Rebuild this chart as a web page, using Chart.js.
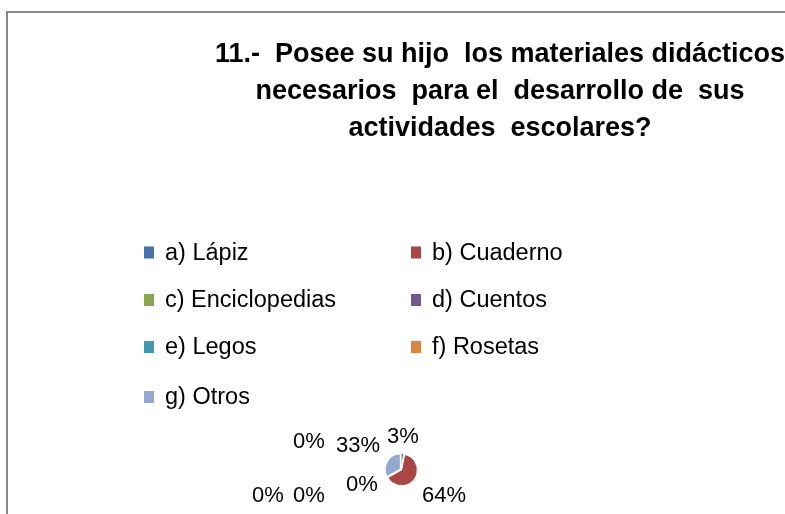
<!DOCTYPE html>
<html>
<head>
<meta charset="utf-8">
<script src="https://cdn.jsdelivr.net/npm/chart.js@4"></script>
<style>
  html, body { margin: 0; padding: 0; background: #fff; overflow: hidden; width: 785px; height: 514px; }
  #frame { position: absolute; left: 6px; top: 11px; width: 984px; height: 560px; border: 2px solid #868686; }
  #frame canvas { display: block; }
</style>
</head>
<body>
<div id="frame"><canvas id="myChart" width="984" height="560"></canvas></div>
<script>
var titleLines = [
  '11.-  Posee su hijo  los materiales didácticos',
  'necesarios  para el  desarrollo de  sus',
  'actividades  escolares?'
];
var categories = ['a) Lápiz', 'b) Cuaderno', 'c) Enciclopedias', 'd) Cuentos', 'e) Legos', 'f) Rosetas', 'g) Otros'];
var percents = [3, 64, 0, 0, 0, 0, 33];

var sliceColors = ['#4572A7', '#AA4643', '#89A54E', '#71588F', '#4198AF', '#DB843D', '#93A9CF'];
// where Excel put each value label, relative to the pie centre
var labelShift = [[2, -33], [43, 26], [-39, 15], [-92, 26], [-133, 26], [-92, -28], [-43, -24]];

var font = '"Liberation Sans", Arial, sans-serif';

var excelLook = {
  id: 'excelLook',
  afterDraw: function (chart) {
    var ctx = chart.ctx;
    ctx.save();
    ctx.fillStyle = '#000';

    // title
    ctx.font = 'bold 27px ' + font;
    ctx.textAlign = 'center';
    ctx.textBaseline = 'alphabetic';
    titleLines.forEach(function (line, i) {
      ctx.fillText(line, 492, 49 + i * 37);
    });

    // legend, two columns
    ctx.font = '23.5px ' + font;
    ctx.textAlign = 'left';
    ctx.textBaseline = 'middle';
    var rows = [239.5, 287, 334, 384];
    categories.forEach(function (name, i) {
      var x = i % 2 === 0 ? 136 : 403;
      var y = rows[Math.floor(i / 2)];
      ctx.fillStyle = sliceColors[i];
      ctx.fillRect(x, y - 6, 10, 12);
      ctx.fillStyle = '#000';
      ctx.fillText(name, x + 21, y + 1);
    });

    // value labels
    ctx.font = '22px ' + font;
    var meta = chart.getDatasetMeta(0);
    ctx.textAlign = 'center';
    meta.data.forEach(function (arc, i) {
      ctx.fillText(percents[i] + '%', arc.x + labelShift[i][0], arc.y + labelShift[i][1]);
    });
    ctx.restore();
  }
};

var ctx = document.getElementById('myChart').getContext('2d');
var myChart = new Chart(ctx, {
  type: 'pie',
  data: {
    labels: categories,
    datasets: [{
      data: percents,
      backgroundColor: sliceColors,
      borderColor: '#fff',
      borderWidth: 1,
      offset: 3
    }]
  },
  options: {
    responsive: false,
    animation: false,
    events: [],
    radius: 15,
    layout: { padding: { left: 0, right: 198, top: 400, bottom: 47 } },
    plugins: {
      legend: { display: false },
      title: { display: false },
      tooltip: { enabled: false }
    }
  },
  plugins: [excelLook]
});
</script>
</body>
</html>
